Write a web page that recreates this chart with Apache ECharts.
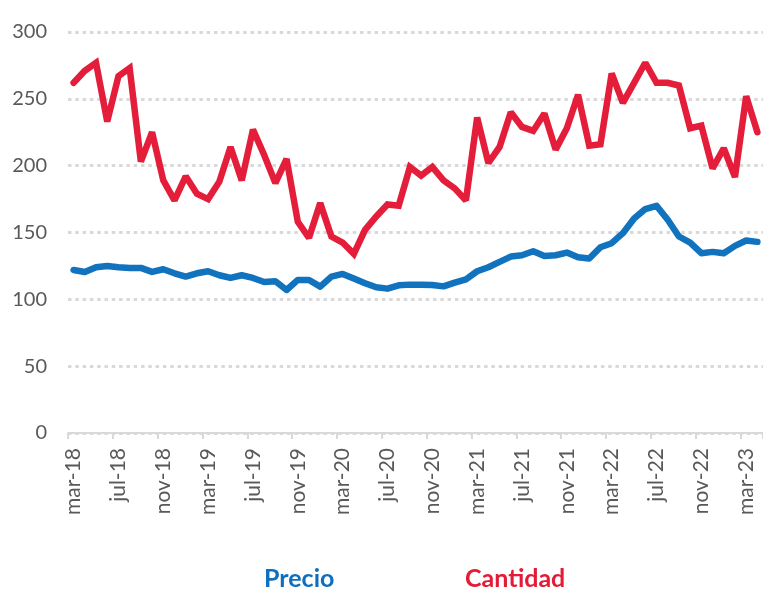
<!DOCTYPE html>
<html>
<head>
<meta charset="utf-8">
<script src="https://cdn.jsdelivr.net/npm/echarts@6/dist/echarts.min.js"></script>
<style>html,body{margin:0;padding:0;background:#fff;}#c{width:763px;height:590px;}</style>
</head>
<body>
<div id="c"></div>
<script>
var categories = [
 'mar-18','abr-18','may-18','jun-18','jul-18','ago-18','sep-18','oct-18','nov-18','dic-18','ene-19','feb-19',
 'mar-19','abr-19','may-19','jun-19','jul-19','ago-19','sep-19','oct-19','nov-19','dic-19','ene-20','feb-20',
 'mar-20','abr-20','may-20','jun-20','jul-20','ago-20','sep-20','oct-20','nov-20','dic-20','ene-21','feb-21',
 'mar-21','abr-21','may-21','jun-21','jul-21','ago-21','sep-21','oct-21','nov-21','dic-21','ene-22','feb-22',
 'mar-22','abr-22','may-22','jun-22','jul-22','ago-22','sep-22','oct-22','nov-22','dic-22','ene-23','feb-23',
 'mar-23','abr-23'
];
var precio = [
 122,120.5,124,125,124,123.5,123.5,120.5,122.5,119.5,117,119.5,
 121,118,116,118,116,113,113.5,107,114.5,114.5,109.5,117,
 119,115.5,112,109,108,110.5,111,111,110.7,109.7,112.5,115,
 121,124,128,132,133,136,132.5,133,135,131.5,130.5,139,
 142,149.5,160.5,167.5,170,159.5,147,142.5,134.5,135.5,134.5,140,
 144,143
];
var cantidad = [
 262,271,277,233,267,273,203,225,189,174,192,179,
 175,188,214,189,227,208,187,205,158,146,172,147,
 142.5,134,152,162,171,170,199,192.5,199,189,183,174,
 236,202,214,240,229,226,239,212,228,253,215,216,
 269,247,262,277,262,262,260,228,230,198,213,191.5,
 252,225
];
var yTicks = { min: 0, max: 300, interval: 50 };

var FONT = 'Lato, "Open Sans", sans-serif';
var chart = echarts.init(document.getElementById('c'), null, { renderer: 'canvas' });
chart.setOption({
  animation: false,
  backgroundColor: '#ffffff',
  textStyle: { fontFamily: FONT },
  grid: { left: 68, top: 32, width: 698, height: 401, containLabel: false },
  legend: [
    { data: [{ name: 'Precio', textStyle: { color: '#0F6FBF' } }], left: 259, top: 566, padding: 0,
      itemWidth: 0, itemHeight: 0, icon: 'none',
      textStyle: { fontFamily: FONT, fontSize: 25, fontWeight: 'bold' } },
    { data: [{ name: 'Cantidad', textStyle: { color: '#E31B37' } }], left: 460, top: 566, padding: 0,
      itemWidth: 0, itemHeight: 0, icon: 'none',
      textStyle: { fontFamily: FONT, fontSize: 25, fontWeight: 'bold' } }
  ],
  xAxis: {
    type: 'category',
    data: categories,
    boundaryGap: true,
    axisLine: { show: true, lineStyle: { color: '#D9D9D9', width: 2 } },
    axisTick: { show: true, interval: 3, length: 6, lineStyle: { color: '#D9D9D9', width: 2 } },
    axisLabel: { interval: 3, rotate: 90, margin: 15, color: '#595959', fontSize: 21, fontFamily: FONT },
    splitLine: { show: false }
  },
  yAxis: {
    type: 'value',
    min: yTicks.min, max: yTicks.max, interval: yTicks.interval,
    axisLine: { show: false },
    axisTick: { show: false },
    axisLabel: { color: '#595959', fontSize: 20, margin: 21, fontFamily: FONT },
    splitLine: { show: true, lineStyle: { color: '#D9D9D9', width: 3, type: [3.5, 3.8] } }
  },
  series: [
    { name: 'Precio', type: 'line', data: precio, symbol: 'none', smooth: false,
      itemStyle: { color: '#1172BE' },
      lineStyle: { color: '#1172BE', width: 6.5, join: 'round', cap: 'round' } },
    { name: 'Cantidad', type: 'line', data: cantidad, symbol: 'none', smooth: false,
      itemStyle: { color: '#E41D3A' },
      lineStyle: { color: '#E41D3A', width: 6.5, join: 'miter', miterLimit: 2, cap: 'round' } }
  ]
});
</script>
</body>
</html>
